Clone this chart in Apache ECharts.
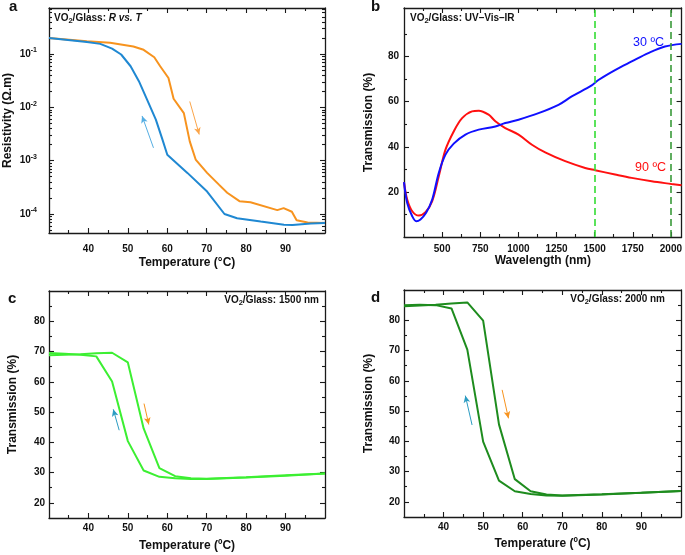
<!DOCTYPE html>
<html><head><meta charset="utf-8">
<script src="https://cdn.jsdelivr.net/npm/echarts@6/dist/echarts.min.js"></script>
<style>html,body{margin:0;padding:0;background:#fff}#c{width:685px;height:555px}</style>
</head><body><div id="c"></div>
<script>
// ---------- Panel a: resistivity vs temperature ----------
const tempA_heat = [30, 39.6, 45.5, 51.4, 54, 56.7, 58.2, 60.3, 61.6, 64.2, 65.7, 67.2, 70.1, 73.1, 75.2, 78.3, 81.1, 87.9, 89.5, 91.6, 92.8, 95.6, 100];
const resA_heat = [0.200, 0.174, 0.162, 0.138, 0.120, 0.087, 0.059, 0.0355, 0.0145, 0.0078, 0.0023, 0.00105, 0.00059, 0.000355, 0.00025, 0.000174, 0.000166, 0.000118, 0.000129, 0.00011, 7.6e-5, 6.9e-5, 6.8e-5];
const tempA_cool = [30, 39.6, 43, 46, 48.3, 50.7, 52.8, 54.9, 57.1, 58.8, 60, 65.1, 70.1, 74.5, 77.7, 83.7, 89.6, 91.8, 96.4, 100];
const resA_cool = [0.200, 0.168, 0.155, 0.126, 0.098, 0.059, 0.031, 0.0138, 0.0059, 0.00245, 0.00129, 0.00059, 0.000263, 0.0001, 8.3e-5, 7.2e-5, 6.3e-5, 6.2e-5, 6.6e-5, 6.8e-5];
const arrowA_heat = [[65.7, 0.0129], [68.1, 0.0031]];
const arrowA_cool = [[56.5, 0.00174], [53.6, 0.0069]];

// ---------- Panel b: spectra ----------
const wl30 = [250, 271, 304, 330, 358, 395, 435, 478, 522, 576, 653, 740, 849, 914, 1001, 1132, 1263, 1350, 1481, 1525, 1634, 1743, 1852, 1961, 2070];
const trans30 = [24.3, 15.1, 9.2, 7.0, 7.8, 10.7, 16.6, 28.4, 36.5, 41.4, 45.4, 47.6, 49.0, 50.5, 52.0, 54.9, 58.6, 62.3, 67.2, 69.6, 74.0, 77.8, 81.5, 84.4, 85.6];
const wl90 = [250, 271, 304, 347, 391, 435, 478, 522, 576, 631, 696, 740, 805, 849, 914, 1001, 1089, 1176, 1307, 1438, 1503, 1634, 1743, 1874, 2004, 2070];
const trans90 = [24.3, 16.6, 11.4, 9.5, 11.0, 15.9, 26.9, 38.7, 46.8, 52.7, 55.7, 56.0, 54.2, 51.3, 48.3, 45.4, 40.9, 37.5, 33.6, 30.6, 29.6, 27.7, 26.2, 24.7, 23.5, 22.9];
const markWavelengths = [1500, 2000];

// ---------- Panel c: 1500 nm ----------
const tempC_heat = [30, 34, 38, 42, 46, 50, 54, 58, 62, 66, 70, 80, 90, 100];
const transC_heat = [68.8, 68.9, 69.1, 69.4, 69.6, 66.4, 44.6, 31.5, 28.8, 28.1, 28.0, 28.5, 29.1, 29.7];
const tempC_cool = [100, 90, 80, 70, 66, 62, 58, 54, 50, 46, 42, 38, 34, 30];
const transC_cool = [29.7, 29.0, 28.4, 27.9, 27.9, 28.1, 28.6, 30.7, 40.4, 60.1, 68.4, 68.9, 69.3, 69.5];
const arrowC_heat = [[54.1, 52.8], [55.3, 45.9]];
const arrowC_cool = [[47.8, 44.0], [46.3, 50.9]];

// ---------- Panel d: 2000 nm ----------
const tempD_heat = [30, 34, 38, 42, 46, 50, 54, 58, 62, 66, 70, 80, 90, 100];
const transD_heat = [84.6, 84.9, 85.1, 85.5, 85.9, 79.9, 45.6, 27.5, 23.5, 22.4, 22.1, 22.5, 23.0, 23.6];
const tempD_cool = [100, 90, 80, 70, 66, 62, 58, 54, 50, 46, 42, 38, 34, 30];
const transD_cool = [23.6, 23.0, 22.4, 22.0, 22.1, 22.6, 23.5, 27.0, 39.9, 70.3, 83.9, 85.0, 85.1, 85.0];
const arrowD_heat = [[54.8, 57.0], [56.4, 47.6]];
const arrowD_cool = [[47.2, 45.4], [45.5, 55.1]];

// ---------- Tick values ----------
const tempTicks = [40, 50, 60, 70, 80, 90];
const tempMinor = [35, 45, 55, 65, 75, 85, 95];
const resTicks = [1e-4, 1e-3, 1e-2, 1e-1];
const resMinor = [];
[-5, -4, -3, -2, -1].forEach(d => { for (let k = 2; k <= 9; k++) resMinor.push(+(k * Math.pow(10, d)).toPrecision(3)); });
const wlTicks = [500, 750, 1000, 1250, 1500, 1750, 2000];
const wlMinor = [375, 625, 875, 1125, 1375, 1625, 1875];
const transBTicks = [20, 40, 60, 80];
const transBMinor = [10, 30, 50, 70, 90];
const transTicks = [20, 30, 40, 50, 60, 70, 80];
const transMinor = [25, 35, 45, 55, 65, 75, 85];

const FONT = '"Liberation Sans", Arial, sans-serif';
const AX = '#1a1a1a';
const plain = v => String(v);

function axes(dim, grid, o) {
  const low = dim === 'x' ? 'bottom' : 'left';
  const high = dim === 'x' ? 'top' : 'right';
  const mk = (pos, major, labeled) => {
    const a = {
      gridIndex: grid, type: o.type || 'value', min: o.min, max: o.max, position: pos,
      splitLine: {show: false}, scale: true,
      axisLine: {show: major, onZero: false, lineStyle: {color: AX, width: 1.3}},
      axisTick: {show: true, inside: true, length: major ? 5 : 3, customValues: major ? o.ticks : o.minor,
                 lineStyle: {color: AX, width: 1.1}},
      axisLabel: labeled ? {show: true, customValues: o.ticks, formatter: o.fmt || plain, margin: o.margin,
                 color: '#111', fontFamily: FONT, fontWeight: 'bold', fontSize: 10, rich: o.rich} : {show: false},
      name: labeled ? o.name : '', nameLocation: 'middle', nameGap: o.nameGap,
      nameTextStyle: {fontFamily: FONT, fontWeight: 'bold', fontSize: 12, color: '#111'}
    };
    if (o.type === 'log') a.logBase = 10;
    return a;
  };
  // Order chosen so ECharts' position-flip logic yields: low, high, low(minor), high(minor)
  return [mk(low, true, true), mk(high, true, false), mk(high, false, false), mk(low, false, false)];
}

const grids = [
  {left: 49, top: 8, width: 276, height: 225},
  {left: 404, top: 8, width: 280, height: 229},
  {left: 49, top: 291, width: 276, height: 227},
  {left: 404, top: 290, width: 277, height: 227}
];

const xAxes = [].concat(
  axes('x', 0, {min: 30, max: 100, ticks: tempTicks, minor: tempMinor, margin: 11, name: 'Temperature (°C)', nameGap: 24}),
  axes('x', 1, {min: 250, max: 2070, ticks: wlTicks, minor: wlMinor, margin: 7, name: 'Wavelength (nm)', nameGap: 13}),
  axes('x', 2, {min: 30, max: 100, ticks: tempTicks, minor: tempMinor, margin: 5, name: 'Temperature (ºC)', nameGap: 22}),
  axes('x', 3, {min: 30, max: 100, ticks: tempTicks, minor: tempMinor, margin: 5, name: 'Temperature (ºC)', nameGap: 21})
);
const yAxes = [].concat(
  axes('y', 0, {type: 'log', min: 4.4e-5, max: 0.73, ticks: resTicks, minor: resMinor, margin: 12,
    name: 'Resistivity (Ω.m)', nameGap: 35,
    fmt: v => { const e = Math.round(Math.log10(v)); return '{b|10}{s|' + String(e) + '}'; },
    rich: {b: {fontFamily: FONT, fontWeight: 'bold', fontSize: 10, lineHeight: 14, color: '#111'},
           s: {fontFamily: FONT, fontWeight: 'bold', fontSize: 7, lineHeight: 8, verticalAlign: 'top', color: '#111'}}}),
  axes('y', 1, {min: 0, max: 101.5, ticks: transBTicks, minor: transBMinor, margin: 5, name: 'Transmission (%)', nameGap: 29}),
  axes('y', 2, {min: 15, max: 90, ticks: transTicks, minor: transMinor, margin: 4, name: 'Transmission (%)', nameGap: 30}),
  axes('y', 3, {min: 15, max: 90, ticks: transTicks, minor: transMinor, margin: 4, name: 'Transmission (%)', nameGap: 29})
);

const zip = (xs, ys) => xs.map((x, i) => [x, ys[i]]);
function line(g, xs, ys, color, extra) {
  return Object.assign({type: 'line', xAxisIndex: g * 4, yAxisIndex: g * 4, data: zip(xs, ys), symbol: 'none',
    lineStyle: {color: color, width: 2}, itemStyle: {color: color}, silent: true, animation: false, z: 3}, extra || {});
}
function arrow(g, pts, color) {
  return {type: 'line', xAxisIndex: g * 4, yAxisIndex: g * 4, data: [], symbol: 'none', silent: true, animation: false,
    markLine: {silent: true, animation: false, symbol: ['none', 'arrow'], symbolSize: [5, 7], label: {show: false},
      lineStyle: {color: color, width: 1, type: 'solid'},
      data: [[{coord: pts[0]}, {coord: pts[1]}]]}};
}

const ORANGE = '#F7931E', BLUE = '#1F88D2';
const series = [
  line(0, tempA_heat, resA_heat, ORANGE),
  line(0, tempA_cool, resA_cool, BLUE),
  arrow(0, arrowA_heat, '#FBA54A'),
  arrow(0, arrowA_cool, '#55AEE3'),
  line(1, wl90, trans90, '#FF1010', {smooth: 0.35}),
  line(1, wl30, trans30, '#1010FF', {smooth: 0.35}),
  {type: 'line', xAxisIndex: 4, yAxisIndex: 4, data: [], symbol: 'none', silent: true, animation: false,
    markLine: {silent: true, animation: false, symbol: ['none', 'none'], label: {show: false},
      data: markWavelengths.map((w, i) => ({xAxis: w, lineStyle: {color: i === 0 ? '#33DD33' : '#3A9A3A', width: 1.6, type: [7, 4]}}))}},
  line(2, tempC_heat, transC_heat, '#3CEF32'),
  line(2, tempC_cool, transC_cool, '#3CEF32'),
  arrow(2, arrowC_heat, ORANGE),
  arrow(2, arrowC_cool, '#2C9CC2'),
  line(3, tempD_heat, transD_heat, '#1E8C1E'),
  line(3, tempD_cool, transD_cool, '#1E8C1E'),
  arrow(3, arrowD_heat, ORANGE),
  arrow(3, arrowD_cool, '#2C9CC2')
];

const titleRich = {
  b: {fontFamily: FONT, fontWeight: 'bold', fontSize: 10, lineHeight: 14, fill: '#111', color: '#111'},
  i: {fontFamily: FONT, fontWeight: 'bold', fontStyle: 'italic', fontSize: 10, lineHeight: 14, fill: '#111', color: '#111'},
  sub: {fontFamily: FONT, fontWeight: 'bold', fontSize: 7.5, lineHeight: 8, verticalAlign: 'bottom', fill: '#111', color: '#111'}
};
const letter = (t, x, y) => ({type: 'text', x: x, y: y, silent: true,
  style: {text: t, font: 'bold 15px ' + FONT, fill: '#111', textVerticalAlign: 'middle', verticalAlign: 'middle'}});
const graphic = [
  letter('a', 9, 7), letter('b', 371, 7), letter('c', 8, 299), letter('d', 371, 298),
  {type: 'text', left: 54, top: 13, silent: true, style: {text: '{b|VO}{sub|2}{b|/Glass: }{i|R vs. T}', rich: titleRich}},
  {type: 'text', left: 410, top: 13, silent: true, style: {text: '{b|VO}{sub|2}{b|/Glass: UV–Vis–IR}', rich: titleRich}},
  {type: 'text', right: 366, top: 295, silent: true, style: {text: '{b|VO}{sub|2}{b|/Glass: 1500 nm}', rich: titleRich}},
  {type: 'text', right: 20, top: 294, silent: true, style: {text: '{b|VO}{sub|2}{b|/Glass: 2000 nm}', rich: titleRich}},
  {type: 'text', x: 633, y: 43, silent: true, style: {text: '30 ºC', font: '12.5px ' + FONT, fill: '#1010FF', textVerticalAlign: 'middle', verticalAlign: 'middle'}},
  {type: 'text', x: 635, y: 168, silent: true, style: {text: '90 ºC', font: '12.5px ' + FONT, fill: '#FF1010', textVerticalAlign: 'middle', verticalAlign: 'middle'}}
];

const chart = echarts.init(document.getElementById('c'), null, {renderer: 'canvas'});
chart.setOption({animation: false, backgroundColor: '#fff', grid: grids, xAxis: xAxes, yAxis: yAxes, series: series, graphic: graphic});
</script></body></html>
